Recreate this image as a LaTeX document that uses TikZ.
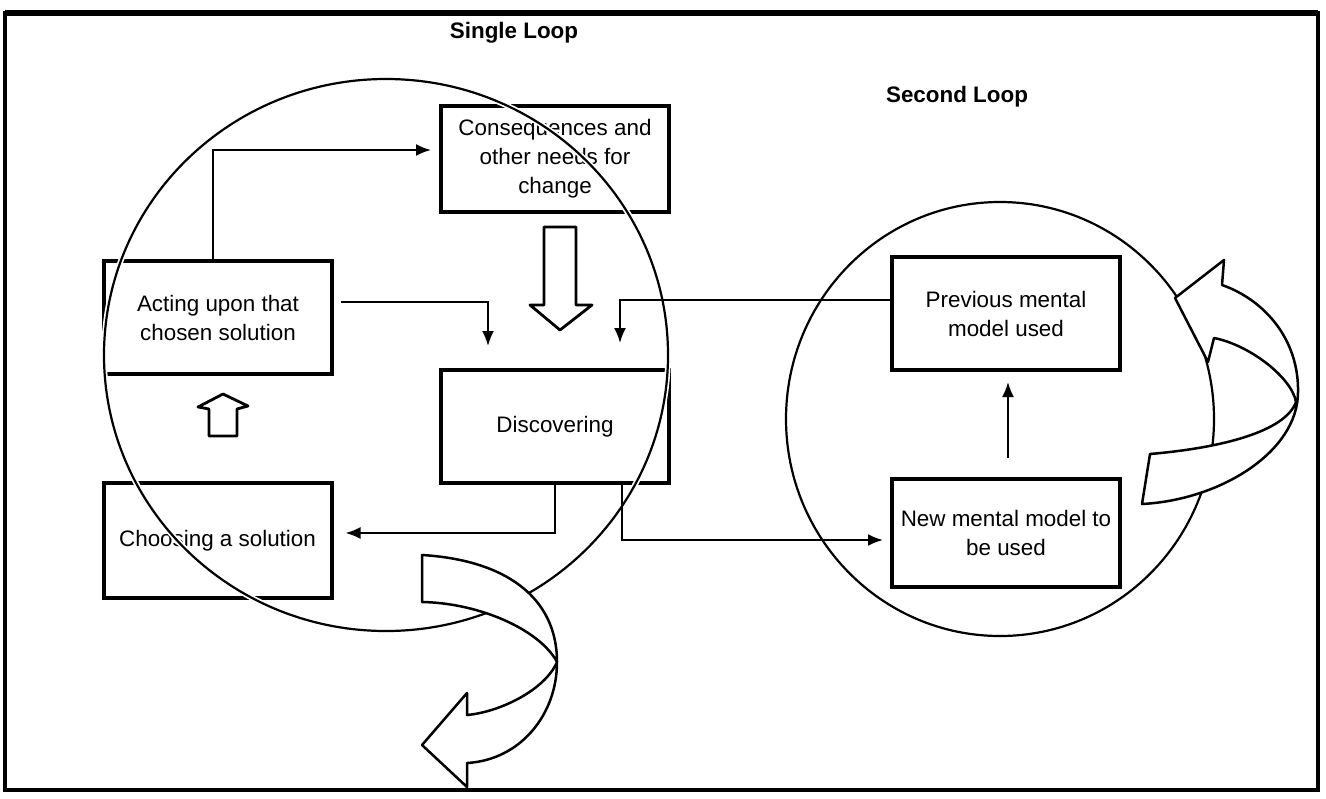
\documentclass[tikz,border=0pt]{standalone}
\usepackage{fontspec}
\setmainfont{Liberation Sans}
\usetikzlibrary{arrows.meta}
\begin{document}
\begin{tikzpicture}[x=0.5pt,y=-0.5pt,
  box/.style={draw, line width=2pt, minimum width=114pt, minimum height=56.5pt,
    inner sep=0pt, align=center, font=\fontsize{11.2}{14.5}\selectfont},
  title/.style={font=\bfseries\fontsize{11.2}{13}\selectfont, inner sep=0pt},
  conn/.style={line width=1pt, -{Latex[length=7.5pt,width=6pt]}},
  blockarrow/.style={draw, line width=1.4pt, line join=round, fill=white},
  ribbon/.style={draw, line width=1.25pt, line join=round, fill=white},
  loopline/.style={line width=1.1pt},
  loophalo/.style={white, line width=2.8pt}]
\useasboundingbox (0,0) rectangle (1326,798);

% outer frame
\draw[line width=1.6pt] (5,13) rectangle (1318,790);
\draw[line width=2.6pt] (5,13) -- (1318,13);

% titles
\node[title] (single) at (514,33) {Single Loop};
\node[title] (second) at (957,97) {Second Loop};

% boxes of the single loop
\node[box, minimum height=53pt] (cons) at (555,159) {Consequences and\\ other needs for\\ change};
\node[box] (act) at (218,317.5) {Acting upon that\\ chosen solution};
\node[box, minimum height=57.5pt] (choose) at (217.5,540.5) {Choosing a solution};
\node[box] (disc) at (555,426.5) {Discovering};

% boxes of the second loop
\node[box] (prev) at (1006,313.5) {Previous mental\\ model used};
\node[box, minimum height=54pt] (new) at (1006,533) {New mental model to\\ be used};

% the two loops, cutting through the boxes they cross
\draw[loophalo] (386,355) ellipse [x radius=282, y radius=276];
\draw[loopline] (386,355) ellipse [x radius=282, y radius=276];
\draw[loophalo] (1000,419) ellipse [x radius=214, y radius=217];
\draw[loopline] (1000,419) ellipse [x radius=214, y radius=217];

% connectors
\draw[conn] ([xshift=-2.5pt]act.north) |- ([xshift=-4pt,yshift=4.5pt]cons.west);
\draw[conn] ([xshift=3.5pt,yshift=7.75pt]act.east) -| ([xshift=-33.5pt,yshift=11pt]disc.north);
\draw[conn] ([yshift=6.75pt]prev.west) -| ([xshift=32.5pt,yshift=12.5pt]disc.north);
\draw[conn] (disc.south) |- ([xshift=6pt,yshift=3.75pt]choose.east);
\draw[conn] ([xshift=33.5pt]disc.south) |- ([xshift=-3.5pt,yshift=-3.5pt]new.west);
\draw[conn] ([xshift=1pt,yshift=9.5pt]new.north) -- ([xshift=1pt,yshift=-5pt]prev.south);

% hollow block arrows
\draw[blockarrow] (544,227) -- (576,227) -- (576,305) -- (592,305) -- (560,330)
  -- (530,305) -- (544,305) -- cycle;
\draw[blockarrow] (209,436) -- (237,436) -- (237,409) -- (248,406) -- (223,394)
  -- (198,407) -- (209,409) -- cycle;

% twisted curved arrow leaving the single loop
\draw[ribbon] (422,555) .. controls (505,560) and (557,597) .. (557,662)
  .. controls (557,715) and (520,760) .. (467,763)
  -- (467,787) -- (422,745) -- (467,693) -- (467,715)
  .. controls (500,712) and (545,690) .. (557,662)
  .. controls (540,630) and (480,603) .. (422,602) -- cycle;

% twisted curved arrow turning round the second loop
\draw[ribbon] (1150,454) .. controls (1220,448) and (1285,432) .. (1296,402)
  .. controls (1292,378) and (1250,345) .. (1214,338)
  -- (1208,362) -- (1175,298) -- (1224,260) -- (1222,285)
  .. controls (1265,300) and (1299,340) .. (1298,392)
  .. controls (1298,452) and (1220,500) .. (1142,504) -- cycle;
\end{tikzpicture}
\end{document}
